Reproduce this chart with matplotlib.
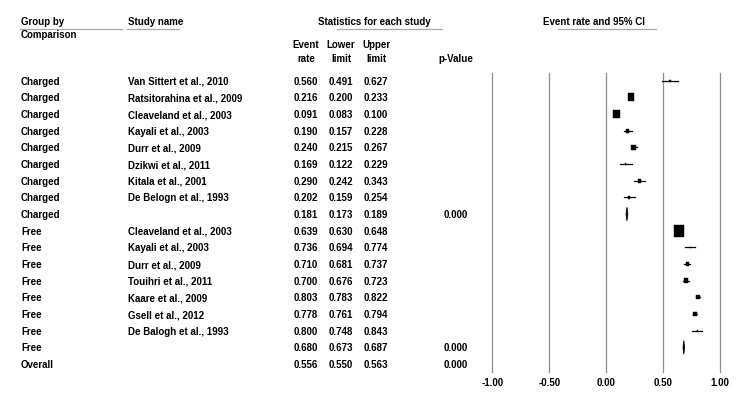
import matplotlib
matplotlib.use("Agg")
import matplotlib.pyplot as plt
from matplotlib.patches import Rectangle, Polygon
import numpy as np

plt.rcParams['font.family'] = ['Liberation Sans', 'DejaVu Sans']

# data
groups = ["Charged"] * 9 + ["Free"] * 8 + ["Overall"]
studies = ["Van Sittert et al., 2010", "Ratsitorahina et al., 2009",
           "Cleaveland et al., 2003", "Kayali et al., 2003", "Durr et al., 2009",
           "Dzikwi et al., 2011", "Kitala et al., 2001", "De Belogn et al., 1993", "",
           "Cleaveland et al., 2003", "Kayali et al., 2003", "Durr et al., 2009",
           "Touihri et al., 2011", "Kaare et al., 2009", "Gsell et al., 2012",
           "De Balogh et al., 1993", "", ""]
event_rate = [0.560, 0.216, 0.091, 0.190, 0.240, 0.169, 0.290, 0.202, 0.181,
              0.639, 0.736, 0.710, 0.700, 0.803, 0.778, 0.800, 0.680, 0.556]
lower = [0.491, 0.200, 0.083, 0.157, 0.215, 0.122, 0.242, 0.159, 0.173,
         0.630, 0.694, 0.681, 0.676, 0.783, 0.761, 0.748, 0.673, 0.550]
upper = [0.627, 0.233, 0.100, 0.228, 0.267, 0.229, 0.343, 0.254, 0.189,
         0.648, 0.774, 0.737, 0.723, 0.822, 0.794, 0.843, 0.687, 0.563]
p_values = [""] * 8 + ["0.000"] + [""] * 7 + ["0.000", "0.000"]
row_kind = ["study"] * 8 + ["subtotal"] + ["study"] * 7 + ["subtotal", "overall"]
# relative study weights (box area)
weights = [4, 45, 45, 9, 22, 2.5, 9, 5, None,
           106, 1.5, 9, 16, 12, 11, 1, None, None]
ticks = [-1.0, -0.5, 0.0, 0.5, 1.0]

# layout in pixels
W, H = 738, 410
x0_px, unit_px = 606.3, 114.0     # where 0 sits, px per unit
row0_px, row_px = 81.7, 16.67

fig = plt.figure(figsize=(W / 100, H / 100), dpi=100)
tx = fig.add_axes([0, 0, 1, 1])
tx.set_xlim(0, W)
tx.set_ylim(H, 0)
tx.axis("off")

ax = fig.add_axes([0, 0, 1, 1])
ax.set_xlim((0 - x0_px) / unit_px, (W - x0_px) / unit_px)
ax.set_ylim((H - row0_px) / row_px, (0 - row0_px) / row_px)
ax.axis("off")
ax.patch.set_alpha(0)

fs = 7
bold = dict(fontsize=fs, fontweight="bold", va="center", color="black")

# headers
tx.text(21, 21.7, "Group by", ha="left", **bold)
tx.text(21, 35, "Comparison", ha="left", **bold)
tx.text(127.5, 21.7, "Study name", ha="left", **bold)
tx.text(374.5, 21.7, "Statistics for each study", ha="center", **bold)
tx.text(593.5, 21.7, "Event rate and 95% CI", ha="center", **bold)
ul = dict(color="#a8a8a8", lw=0.9)
tx.plot([20, 122], [30, 30], **ul)
tx.plot([127, 179], [30, 30], **ul)
tx.plot([337, 442], [30, 30], **ul)
tx.plot([558, 656], [30, 30], **ul)

col_x = [306, 341, 376]
tx.text(col_x[0], 45, "Event", ha="center", **bold)
tx.text(col_x[0], 59.5, "rate", ha="center", **bold)
tx.text(col_x[1], 45, "Lower", ha="center", **bold)
tx.text(col_x[1], 59.5, "limit", ha="center", **bold)
tx.text(col_x[2], 45, "Upper", ha="center", **bold)
tx.text(col_x[2], 59.5, "limit", ha="center", **bold)
tx.text(456, 59.5, "p-Value", ha="center", **bold)

# table rows
for i in range(len(groups)):
    y = row0_px + i * row_px
    tx.text(21, y, groups[i], ha="left", **bold)
    tx.text(127.5, y, studies[i], ha="left", **bold)
    for cx, v in zip(col_x, (event_rate[i], lower[i], upper[i])):
        tx.text(cx, y, f"{v:.3f}", ha="center", **bold)
    if p_values[i]:
        tx.text(456, y, p_values[i], ha="center", **bold)

# reference lines and tick labels
for t in ticks:
    ax.plot([t, t], [-0.46, 17.45], color="#8f8f8f", lw=0.9, zorder=1)
    ax.text(t, 18.1, f"{t:.2f}", ha="center", **bold)

# study boxes, CI lines and subtotal diamonds
for i, kind in enumerate(row_kind):
    er, lo, hi = event_rate[i], lower[i], upper[i]
    if kind == "study":
        ax.plot([lo, hi], [i, i], color="black", lw=0.9, zorder=3)
        side = np.sqrt(weights[i])
        w = side / unit_px
        h = side * 1.2 / row_px
        ax.add_patch(Rectangle((er - w / 2, i - h / 2), w, h,
                               facecolor="black", edgecolor="black",
                               lw=0.3, zorder=4))
    elif kind == "subtotal":
        dh = 6.8 / row_px
        ax.add_patch(Polygon([(lo, i), (er, i - dh), (hi, i), (er, i + dh)],
                             closed=True, facecolor="black", edgecolor="black",
                             lw=0.6, zorder=4))

fig.savefig("out.png", dpi=100)
